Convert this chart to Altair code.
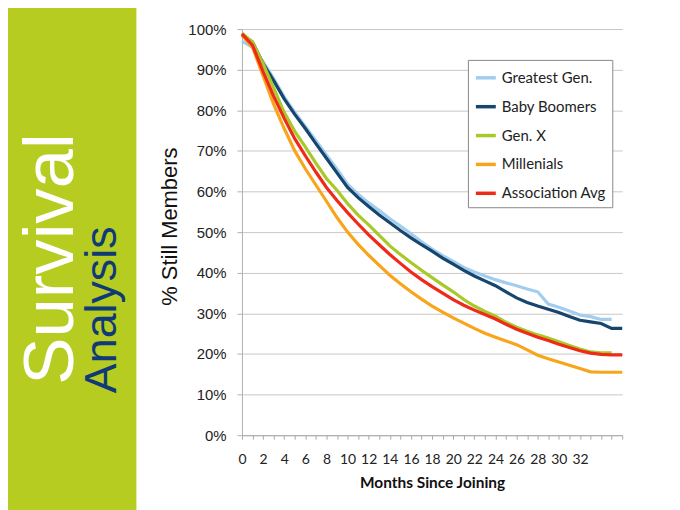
import altair as alt
import pandas as pd

# ---------------- data ----------------
months = list(range(37))
series_names = ["Greatest Gen.", "Baby Boomers", "Gen. X", "Millenials", "Association Avg"]
series_colors = ["#a3cdee", "#16466e", "#a8c927", "#f8a51c", "#f02a18"]

greatest_gen = [97.0, 95.5, 92.0, 87.8, 83.3, 79.5, 76.0, 72.5, 69.0, 65.5, 61.8, 59.3,
                57.2, 55.3, 53.3, 51.5, 49.6, 47.6, 45.8, 44.2, 42.8, 41.3, 40.2, 39.2,
                38.3, 37.5, 36.8, 36.0, 35.3, 32.3, 31.5, 30.6, 29.6, 29.2, 28.5, 28.5]
baby_boomers = [98.5, 96.8, 91.5, 87.3, 82.8, 79.0, 75.5, 71.8, 68.2, 64.6, 61.0, 58.5,
                56.3, 54.2, 52.3, 50.4, 48.6, 46.9, 45.3, 43.6, 42.1, 40.6, 39.2, 38.0,
                36.8, 35.3, 33.8, 32.7, 31.8, 31.0, 30.2, 29.2, 28.3, 27.9, 27.5, 26.3, 26.3]
gen_x = [99.0, 96.8, 91.5, 85.5, 79.5, 74.8, 71.0, 67.0, 63.2, 60.3, 57.0, 54.2,
         51.8, 49.2, 46.6, 44.5, 42.5, 40.6, 38.8, 37.0, 35.3, 33.4, 31.8, 30.5,
         29.3, 27.8, 26.6, 25.6, 24.7, 23.9, 23.0, 22.1, 21.2, 20.5, 20.3, 20.3]
millenials = [98.5, 95.5, 88.5, 81.5, 75.5, 70.0, 65.6, 61.6, 57.6, 53.6, 50.0, 47.0,
              44.3, 41.8, 39.4, 37.3, 35.3, 33.5, 31.8, 30.3, 28.9, 27.6, 26.3, 25.1,
              24.1, 23.2, 22.3, 21.0, 19.7, 18.8, 18.0, 17.2, 16.4, 15.6, 15.5, 15.5, 15.5]
association_avg = [98.8, 96.0, 89.5, 83.5, 78.0, 73.0, 68.8, 64.8, 61.0, 57.8, 54.8, 52.0,
                   49.3, 46.9, 44.5, 42.3, 40.2, 38.3, 36.6, 35.0, 33.4, 32.0, 30.8, 29.7,
                   28.6, 27.3, 26.1, 25.1, 24.1, 23.3, 22.4, 21.6, 20.8, 20.2, 19.9, 19.8, 19.8]

x_tick_values = months
y_tick_values = list(range(0, 101, 10))

all_series = [greatest_gen, baby_boomers, gen_x, millenials, association_avg]
rows = []
for name, vals in zip(series_names, all_series):
    for m, v in zip(months, vals):
        rows.append({"month": m, "value": v, "series": name})
df = pd.DataFrame(rows)
one = pd.DataFrame([{"k": 1}])

# ---------------- layout ----------------
W, H = 382, 408
PAD_L, PAD_T = 235, 20
GREEN = "#b6cc21"
NAVY_TXT = "#0f3a78"

x_enc = alt.X("month:Q",
              scale=alt.Scale(domain=[0, 36], nice=False, zero=False),
              axis=alt.Axis(values=x_tick_values,
                            labelExpr="datum.value % 2 == 0 && datum.value <= 32 ? datum.label : ''",
                            grid=False, domainColor="#a8a8a8", tickColor="#a8a8a8",
                            tickSize=4, labelFont="Lato", labelFontSize=14,
                            labelColor="#222222", labelPadding=13, labelOverlap=False,
                            labelFlush=False, title="Months Since Joining",
                            titleFont="Lato", titleFontSize=15.5, titleFontWeight="bold",
                            titleColor="#111111", titlePadding=10))
y_enc = alt.Y("value:Q",
              scale=alt.Scale(domain=[0, 100], nice=False, zero=True),
              axis=alt.Axis(values=y_tick_values, labelExpr="datum.value + '%'",
                            grid=True, gridColor="#c8c8c8", domainColor="#b0b0b0",
                            tickColor="#b0b0b0", tickSize=5, labelFont="Liberation Sans",
                            labelFontSize=15, labelColor="#222222", labelPadding=11,
                            title="% Still Members", titleFont="Liberation Sans",
                            titleFontSize=22, titleFontWeight="normal",
                            titleColor="#111111", titlePadding=6, titleY=198))
c_enc = alt.Color("series:N",
                  scale=alt.Scale(domain=series_names, range=series_colors),
                  legend=alt.Legend(title=None, orient="none", legendX=227, legendY=31,
                                    direction="vertical", fillColor="white",
                                    strokeColor="#888888", padding=6,
                                    symbolType="stroke", symbolSize=400,
                                    symbolStrokeWidth=3.5, labelFont="Lato",
                                    labelFontSize=15, labelColor="#222222",
                                    rowPadding=9, labelLimit=220, labelOffset=4))

panel = alt.Chart(one).mark_rect(color=GREEN).encode(
    x=alt.value(-PAD_L - 5), x2=alt.value(137 - 243),
    y=alt.value(-PAD_T - 5), y2=alt.value(490))

survival = alt.Chart(one).mark_text(
    text="Survival", angle=270, font="Liberation Sans", fontSize=71,
    color="white", align="center", baseline="alphabetic").encode(
    x=alt.value(73 - 243), y=alt.value(259 - 28))

analysis = alt.Chart(one).mark_text(
    text="Analysis", angle=270, font="Liberation Sans", fontSize=45,
    color=NAVY_TXT, align="center", baseline="alphabetic").encode(
    x=alt.value(116 - 243), y=alt.value(310 - 28))

line_layers = []
for name in series_names:
    line_layers.append(
        alt.Chart(df[df.series == name]).mark_line(strokeWidth=3.2).encode(
            x=x_enc, y=y_enc, color=c_enc))

chart = alt.layer(panel, survival, analysis, *line_layers).properties(
    width=W, height=H,
    autosize=alt.AutoSizeParams(type="none"),
    padding={"left": PAD_L, "top": PAD_T, "right": 50, "bottom": 502 - PAD_T - H},
    background="white",
).configure_view(stroke="transparent")

chart.save("out.html", embed_options={"renderer": "svg", "actions": False})
